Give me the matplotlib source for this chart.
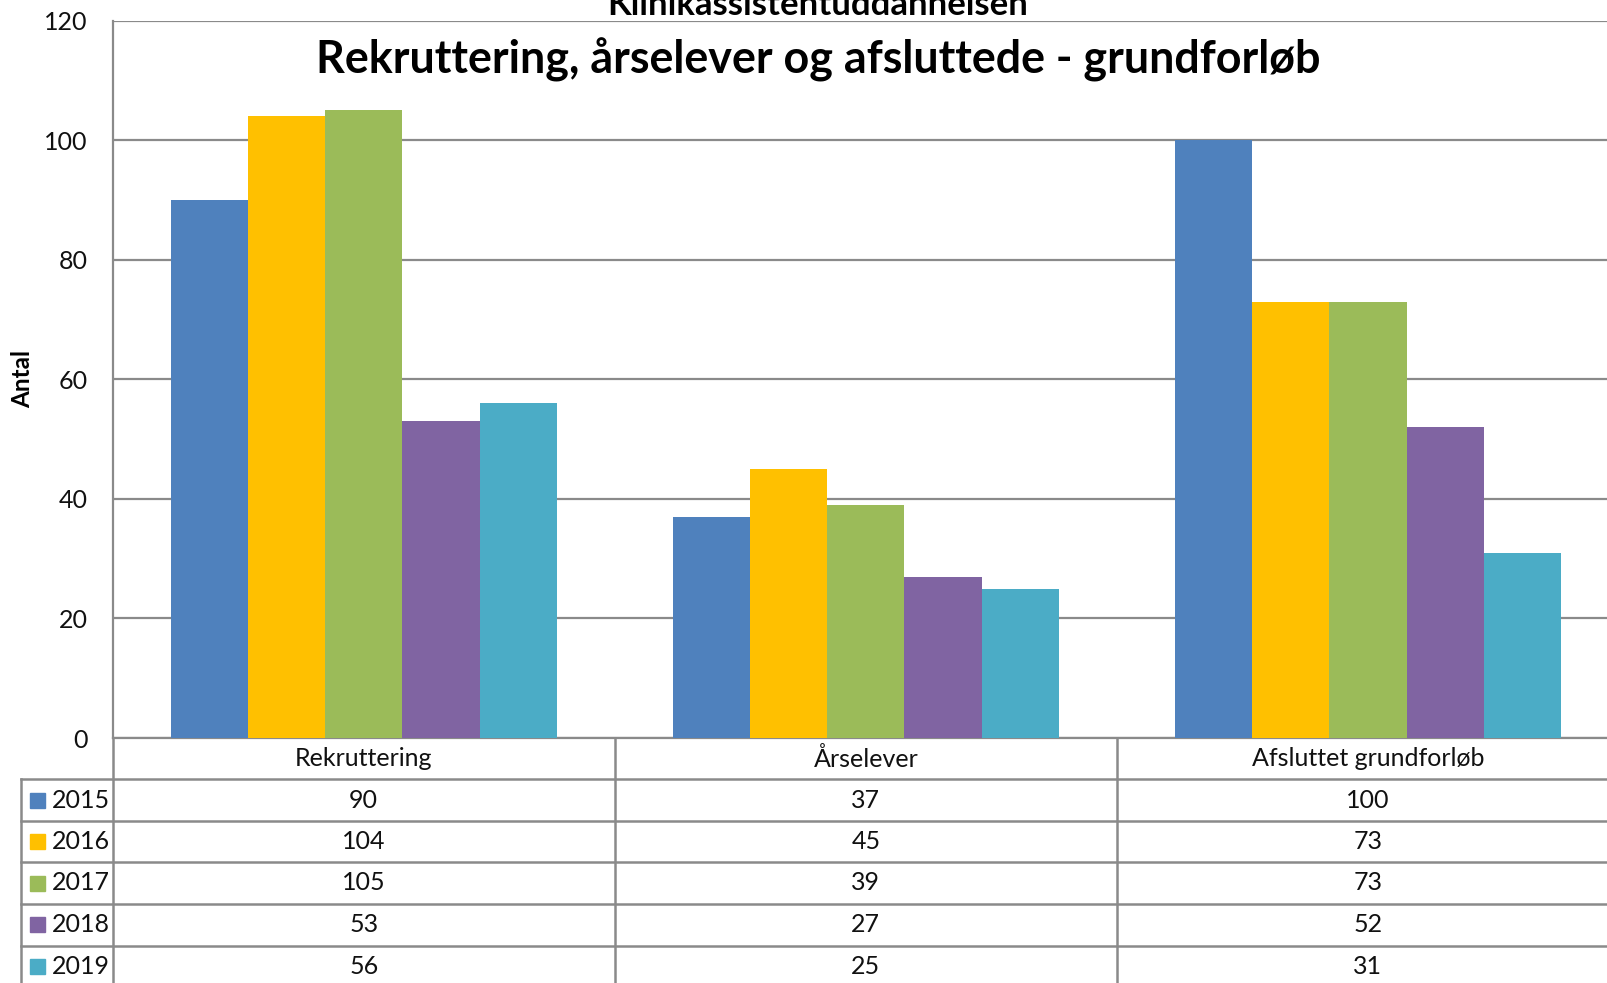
import matplotlib.pyplot as plt
import matplotlib.transforms as mtransforms
from matplotlib.lines import Line2D
from matplotlib.patches import Rectangle

plt.rcParams['font.family'] = ['Lato', 'DejaVu Sans']

# Data
categories = ["Rekruttering", "Årselever", "Afsluttet grundforløb"]
years = ["2015", "2016", "2017", "2018", "2019"]
values = {
    "2015": [90, 37, 100],
    "2016": [104, 45, 73],
    "2017": [105, 39, 73],
    "2018": [53, 27, 52],
    "2019": [56, 25, 31],
}
colors = ["#4F81BD", "#FFC000", "#9BBB59", "#8064A2", "#4BACC6"]

W, H = 1607, 983
fig = plt.figure(figsize=(W / 100, H / 100), dpi=100)

def fx(px):
    return px / W

def fy(px):
    return 1 - px / H

ax = fig.add_axes([fx(112.7), fy(738), fx(1619) - fx(112.7), fy(20.5) - fy(738)])

grid_col = "#8a8a8a"
bw = 1 / 6.5
for i, yr in enumerate(years):
    xs = [c + (i - 2) * bw for c in range(len(categories))]
    ax.bar(xs, values[yr], width=bw, color=colors[i], zorder=3)

ax.set_xlim(-0.5, len(categories) - 0.5)
ax.set_ylim(0, 120)
ax.set_yticks(range(0, 121, 20))
ax.yaxis.grid(True, color=grid_col, linewidth=1.6, zorder=0)
ax.tick_params(axis='y', length=0, pad=18, labelsize=18, labelcolor="#111111")
ax.tick_params(axis='x', length=0, labelbottom=False)
for s in ["top", "right"]:
    ax.spines[s].set_visible(False)
for s in ["left", "bottom"]:
    ax.spines[s].set_color(grid_col)
    ax.spines[s].set_linewidth(1.6)

fig.text(fx(23), fy(379), "Antal", rotation=90, ha="center", va="center",
         fontsize=17.5, fontweight="bold")

# Titles
fig.text(fx(818), fy(15), "Klinikassistentuddannelsen", ha="center", va="baseline",
         fontsize=25, fontweight="bold")
fig.text(fx(818), fy(74), "Rekruttering, årselever og afsluttede - grundforløb",
         ha="center", va="baseline", fontsize=32.3, fontweight="bold")

# Data table below the chart
tr = mtransforms.blended_transform_factory(ax.transData, fig.transFigure)
row_lines = [779.3, 820.7, 862.3, 903.7, 945.7, 987.3]
header_mid = (738 + 779.3) / 2
line_kw = dict(color=grid_col, linewidth=1.8, clip_on=False)

for c, name in enumerate(categories):
    ax.text(c, fy(header_mid), name, transform=tr, ha="center", va="center",
            fontsize=18, color="#111111")

for yline in row_lines[:-1]:
    fig.add_artist(Line2D([fx(21.3), 1], [fy(yline), fy(yline)], **line_kw))
fig.add_artist(Line2D([fx(21.3), fx(21.3)], [fy(779.3), 0], **line_kw))
for xb in [-0.5, 0.5, 1.5]:
    fig.add_artist(Line2D([xb, xb], [fy(738), 0], transform=tr, **line_kw))

for i, yr in enumerate(years):
    mid = (row_lines[i] + row_lines[i + 1]) / 2
    fig.add_artist(Rectangle((fx(30), fy(mid + 7.5)), fx(15), 15 / H,
                             color=colors[i], transform=fig.transFigure))
    fig.text(fx(52), fy(mid), yr, ha="left", va="center", fontsize=18, color="#111111")
    for c in range(len(categories)):
        ax.text(c, fy(mid), str(values[yr][c]), transform=tr, ha="center", va="center",
                fontsize=18, color="#111111")

fig.savefig("out.png", dpi=100)
